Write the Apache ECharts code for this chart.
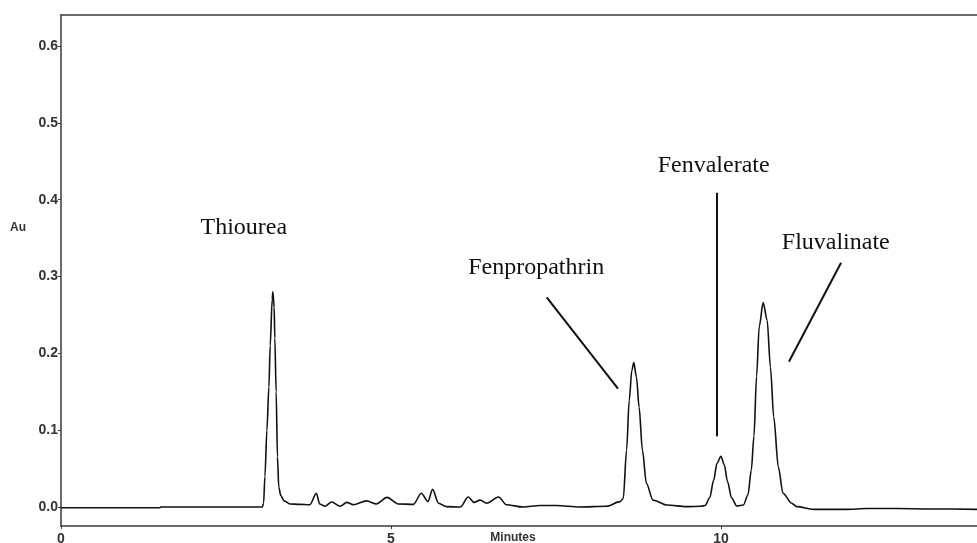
<!DOCTYPE html>
<html>
<head>
<meta charset="utf-8">
<script src="https://cdn.jsdelivr.net/npm/echarts@6/dist/echarts.min.js"></script>
<style>
  html, body { margin: 0; padding: 0; background: #fff; }
  #main { width: 977px; height: 543px; }
</style>
</head>
<body>
<div id="main"></div>
<script>
// retention time (minutes) and absorbance (Au)
var times = [
  0, 1.5, 1.51, 3.05, 3.07, 3.09, 3.12, 3.15, 3.17, 3.20, 3.21, 3.23, 3.24, 3.26, 3.28, 3.30, 3.33, 3.38, 3.47,
  3.62, 3.77, 3.87, 3.92, 4.00, 4.10, 4.23, 4.33, 4.43, 4.63, 4.78, 4.94, 5.11, 5.34, 5.46, 5.56, 5.63, 5.72,
  5.84, 6.05, 6.17, 6.26, 6.35, 6.45, 6.63, 6.75, 7.00, 7.26, 7.51, 7.86, 8.27, 8.47,
  8.52, 8.57, 8.61, 8.65, 8.68, 8.72, 8.76, 8.81, 8.87, 8.97, 9.18, 9.48, 9.70,
  9.76, 9.83, 9.89, 9.94, 10.00, 10.05, 10.10, 10.16, 10.24, 10.34,
  10.41, 10.46, 10.50, 10.54, 10.58, 10.64, 10.70, 10.75, 10.80, 10.87, 10.94, 11.07,
  11.15, 11.40, 11.90, 12.21, 12.66, 13.17, 13.88
];
var absorbance = [
  -0.001, -0.001, 0.0, 0.0, 0.005, 0.04, 0.10, 0.156, 0.21, 0.27, 0.28, 0.26, 0.22, 0.15, 0.065, 0.026, 0.015, 0.008, 0.004,
  0.0035, 0.003, 0.018, 0.004, 0.001, 0.0065, 0.001, 0.006, 0.003, 0.008, 0.004, 0.0125, 0.004, 0.0035, 0.018, 0.007, 0.023, 0.005,
  0.0005, 0.0, 0.013, 0.006, 0.009, 0.005, 0.013, 0.003, 0.0, 0.002, 0.002, 0.0, 0.001, 0.007,
  0.011, 0.074, 0.139, 0.178, 0.188, 0.169, 0.130, 0.074, 0.031, 0.009, 0.0026, 0.0005, 0.001,
  0.002, 0.012, 0.035, 0.057, 0.066, 0.055, 0.033, 0.012, 0.0013, 0.0026,
  0.016, 0.048, 0.092, 0.170, 0.235, 0.266, 0.243, 0.182, 0.117, 0.052, 0.018, 0.005,
  0.0005, -0.003, -0.003, -0.002, -0.002, -0.0025, -0.003
];
var yTicks = [0, 0.1, 0.2, 0.3, 0.4, 0.5, 0.6];
var xTicks = [0, 5, 10];

// peak names, where their labels sit and where their leader lines run (data coords)
var peakNames = ['Thiourea', 'Fenpropathrin', 'Fenvalerate', 'Fluvalinate'];
var labelAt = [[2.77, 0.364], [7.20, 0.312], [9.89, 0.444], [11.74, 0.344]];
var leaderFrom = [null, [7.36, 0.273], [9.94, 0.409], [11.82, 0.318]];
var leaderTo = [null, [8.44, 0.154], [9.94, 0.092], [11.03, 0.189]];

var trace = times.map(function (t, i) { return [t, absorbance[i]]; });
var axisColor = '#3a3a3a';

var chart = echarts.init(document.getElementById('main'));
chart.setOption({
  animation: false,
  backgroundColor: '#fff',
  grid: { left: 61, right: 0, top: 15, bottom: 17, outerBoundsMode: 'none', containLabel: false },
  xAxis: [{
    type: 'value', min: 0, max: 13.88,
    axisLine: { show: true, onZero: false, lineStyle: { color: axisColor, width: 1.5 } },
    axisTick: { show: true, length: 3, customValues: xTicks, lineStyle: { color: axisColor } },
    axisLabel: {
      customValues: xTicks, margin: 6, color: '#333',
      fontFamily: 'Liberation Sans', fontSize: 14, fontWeight: 'bold'
    },
    splitLine: { show: false }
  }, {
    // top frame line
    type: 'value', position: 'top', min: 0, max: 13.88,
    axisLine: { show: true, onZero: false, lineStyle: { color: axisColor, width: 1.5 } },
    axisTick: { show: false }, axisLabel: { show: false }, splitLine: { show: false }
  }],
  yAxis: {
    type: 'value', min: -0.0247, max: 0.6404,
    axisLine: { show: true, onZero: false, lineStyle: { color: axisColor, width: 1.5 } },
    axisTick: { show: true, length: 3, customValues: yTicks, lineStyle: { color: axisColor } },
    axisLabel: {
      customValues: yTicks, margin: 3, color: '#333',
      fontFamily: 'Liberation Sans', fontSize: 14, fontWeight: 'bold',
      formatter: function (v) { return v.toFixed(1); }
    },
    splitLine: { show: false }
  },
  series: [{
    type: 'line',
    data: trace,
    showSymbol: false,
    smooth: 0.3,
    smoothMonotone: 'x',
    lineStyle: { color: '#111', width: 1.6 }
  }]
});

// annotations placed through the axes' own scales
var g = [];
peakNames.forEach(function (name, i) {
  var p = chart.convertToPixel({ gridIndex: 0 }, labelAt[i]);
  g.push({
    type: 'text', x: p[0], y: p[1],
    style: {
      text: name, fill: '#111', align: 'center', verticalAlign: 'middle',
      font: '24px "Liberation Serif"'
    }
  });
  if (leaderFrom[i]) {
    var a = chart.convertToPixel({ gridIndex: 0 }, leaderFrom[i]);
    var b = chart.convertToPixel({ gridIndex: 0 }, leaderTo[i]);
    g.push({
      type: 'line',
      shape: { x1: a[0], y1: a[1], x2: b[0], y2: b[1] },
      style: { stroke: '#111', lineWidth: 2 }
    });
  }
});
g.push({
  type: 'text', x: 18, y: 228,
  style: { text: 'Au', fill: '#333', align: 'center', verticalAlign: 'middle', font: 'bold 12px "Liberation Sans"' }
});
g.push({
  type: 'text', x: 513, y: 538,
  style: { text: 'Minutes', fill: '#333', align: 'center', verticalAlign: 'middle', font: 'bold 12px "Liberation Sans"' }
});
chart.setOption({ graphic: g });
</script>
</body>
</html>
